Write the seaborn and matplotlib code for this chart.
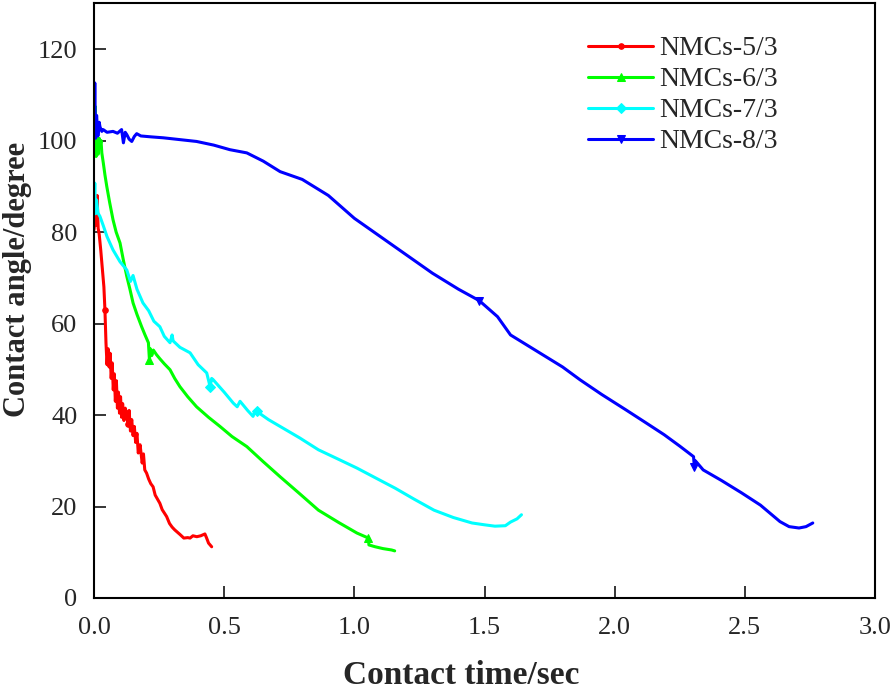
import matplotlib
matplotlib.use("Agg")
import matplotlib.pyplot as plt
import seaborn as sns

# Contact angle vs. contact time
labels = ["NMCs-5/3", "NMCs-6/3", "NMCs-7/3", "NMCs-8/3"]

t_53 = [0.0, 0.004, 0.008, 0.012, 0.016, 0.02, 0.026, 0.032, 0.038, 0.042, 0.046, 0.05,
        0.054, 0.058, 0.062, 0.066, 0.07, 0.074, 0.078, 0.082, 0.086, 0.09, 0.094, 0.098,
        0.102, 0.106, 0.11, 0.115, 0.12, 0.125, 0.13, 0.135, 0.14, 0.145, 0.15, 0.155,
        0.16, 0.165, 0.17, 0.177, 0.185, 0.19, 0.195, 0.202, 0.21, 0.218, 0.227, 0.235,
        0.245, 0.253, 0.262, 0.27, 0.279, 0.29, 0.3, 0.31, 0.318, 0.33, 0.345, 0.36,
        0.369, 0.38, 0.395, 0.41, 0.426, 0.432, 0.44, 0.452]
a_53 = [80.5, 82.7, 81.5, 88.0, 80.8, 79.5, 76.0, 72.0, 68.0, 63.0, 55.8, 51.0,
        54.5, 50.5, 53.5, 48.0, 51.4, 45.5, 49.0, 43.0, 47.5, 41.5, 45.0, 40.4,
        44.0, 39.5, 42.5, 38.8, 41.5, 40.4, 38.0, 41.0, 36.5, 39.0, 35.5, 37.5,
        34.0, 36.0, 31.7, 33.5, 29.5, 31.5, 28.0, 27.3, 26.0, 25.0, 24.3, 22.5,
        21.5, 20.7, 19.3, 18.6, 17.8, 16.3, 15.5, 14.9, 14.5, 13.9, 13.1, 13.2,
        13.1, 13.6, 13.4, 13.6, 14.0, 13.2, 12.0, 11.2]

t_63 = [0.0, 0.004, 0.008, 0.012, 0.016, 0.02, 0.023, 0.027, 0.03, 0.036, 0.042, 0.049,
        0.06, 0.073, 0.085, 0.1, 0.113, 0.126, 0.138, 0.15, 0.165, 0.183, 0.196, 0.209,
        0.213, 0.216, 0.222, 0.228, 0.24, 0.253, 0.27, 0.292, 0.31, 0.33, 0.36, 0.394,
        0.44, 0.484, 0.53, 0.587, 0.65, 0.715, 0.79, 0.862, 0.94, 1.01, 1.054, 1.056,
        1.08, 1.11, 1.143, 1.155]
a_63 = [98.0, 107.5, 96.5, 101.0, 97.0, 100.5, 98.7, 100.0, 97.3, 95.0, 92.5, 90.0,
        86.5, 82.7, 80.0, 77.6, 73.8, 70.3, 67.5, 64.5, 62.0, 59.3, 57.5, 55.8,
        52.0, 54.5, 53.0, 54.2, 53.2, 52.3, 51.2, 49.9, 48.0, 46.2, 44.0, 41.8,
        39.5, 37.5, 35.3, 33.1, 29.8, 26.5, 22.8, 19.2, 16.5, 14.2, 13.1, 11.6,
        11.2, 10.8, 10.5, 10.3]

t_73 = [0.0, 0.003, 0.006, 0.01, 0.015, 0.023, 0.035, 0.05, 0.073, 0.1, 0.126, 0.14,
        0.15, 0.165, 0.188, 0.21, 0.23, 0.253, 0.27, 0.292, 0.3, 0.304, 0.33, 0.369,
        0.4, 0.433, 0.446, 0.452, 0.458, 0.5, 0.535, 0.55, 0.561, 0.59, 0.611, 0.618,
        0.625, 0.67, 0.715, 0.79, 0.862, 0.94, 1.01, 1.08, 1.157, 1.23, 1.306, 1.38,
        1.452, 1.5, 1.54, 1.58, 1.6, 1.625, 1.642]
a_73 = [86.0, 90.7, 84.0, 87.0, 84.2, 83.4, 81.5, 79.0, 76.1, 73.5, 71.7, 69.2,
        70.5, 67.5, 64.5, 62.8, 60.5, 59.3, 57.2, 55.8, 57.5, 56.2, 54.8, 53.6,
        51.0, 49.2, 46.2, 48.0, 47.7, 45.0, 42.6, 41.8, 43.0, 41.0, 39.7, 40.9,
        40.8, 39.0, 37.5, 35.0, 32.4, 30.3, 28.4, 26.3, 24.0, 21.6, 19.2, 17.6,
        16.4, 16.0, 15.7, 15.8, 16.6, 17.3, 18.2]

t_83 = [0.0, 0.003, 0.006, 0.01, 0.015, 0.02, 0.023, 0.03, 0.035, 0.05, 0.073, 0.09,
        0.106, 0.113, 0.12, 0.126, 0.135, 0.145, 0.155, 0.164, 0.18, 0.22, 0.266, 0.33,
        0.394, 0.46, 0.522, 0.587, 0.65, 0.715, 0.8, 0.9, 1.0, 1.1, 1.2, 1.3,
        1.4, 1.48, 1.55, 1.6, 1.7, 1.8, 1.867, 1.95, 2.044, 2.12, 2.19, 2.25,
        2.303, 2.306, 2.31, 2.34, 2.41, 2.487, 2.56, 2.635, 2.67, 2.708, 2.735, 2.761]
a_83 = [101.0, 112.6, 100.5, 105.5, 101.0, 104.0, 103.0, 102.0, 102.4, 101.8, 102.0, 101.6,
        102.4, 99.5, 101.8, 101.3, 100.3, 99.8, 100.9, 101.5, 101.0, 100.8, 100.6, 100.2,
        99.8, 99.0, 98.0, 97.3, 95.5, 93.2, 91.5, 88.0, 83.0, 79.0, 75.0, 71.0,
        67.5, 65.0, 61.5, 57.5, 54.0, 50.5, 47.7, 44.5, 41.1, 38.3, 35.7, 33.2,
        30.9, 28.7, 30.0, 28.0, 25.7, 23.0, 20.3, 16.7, 15.6, 15.3, 15.6, 16.4]

times = [t_53, t_63, t_73, t_83]
angles = [a_53, a_63, a_73, a_83]
x_ticks = [0.0, 0.5, 1.0, 1.5, 2.0, 2.5, 3.0]
y_ticks = [0, 20, 40, 60, 80, 100, 120]

# styles
colors = ["#FF0000", "#00FF00", "#00FFFF", "#0000FF"]
markers = ["o", "^", "D", "v"]
marker_sizes = [4, 6, 5, 6]
mark_idx = [[9, 30], [24, 46], [26, 36], [37, 49]]

sns.set_style("ticks")
plt.rcParams["font.family"] = ["Liberation Serif", "DejaVu Serif"]

fig = plt.figure(figsize=(8.94, 6.91), dpi=100)
ax = fig.add_axes([94 / 894, (691 - 598) / 691, 781 / 894, 594.7 / 691])

for t, a, lab, c, m, ms, idx in zip(times, angles, labels, colors, markers, marker_sizes, mark_idx):
    sns.lineplot(x=t, y=a, ax=ax, color=c, label=lab, sort=False, estimator=None,
                 linewidth=2.2, marker=m, markersize=ms, markevery=idx,
                 markeredgecolor=c, markerfacecolor=c)

ax.set_xlim(0, 3.0)
ax.set_ylim(0, 130)
ax.set_xticks(x_ticks)
ax.set_xticklabels([f"{v:.1f}" for v in x_ticks])
ax.set_yticks(y_ticks)
ax.set_yticklabels([str(v) for v in y_ticks])
ax.tick_params(direction="in", length=8.5, width=1.1, labelsize=19, color="black",
               top=False, right=False)
ax.tick_params(axis="x", pad=14)
ax.tick_params(axis="y", pad=12)
for s in ax.spines.values():
    s.set_linewidth(1.5)
    s.set_color("black")

ax.set_xlabel("Contact time/sec", fontsize=24, fontweight="bold")
ax.set_ylabel("Contact angle/degree", fontsize=22, fontweight="bold")
ax.xaxis.set_label_coords(0.47, -0.105)
ax.yaxis.set_label_coords(-0.08, 0.535)

ax.legend(loc="upper left", bbox_to_anchor=(0.6325, 0.945), frameon=False, fontsize=20,
          handlelength=2.35, handletextpad=0.2, labelspacing=0.2, borderpad=0,
          borderaxespad=0, numpoints=1)

fig.savefig("out.png", dpi=100)
